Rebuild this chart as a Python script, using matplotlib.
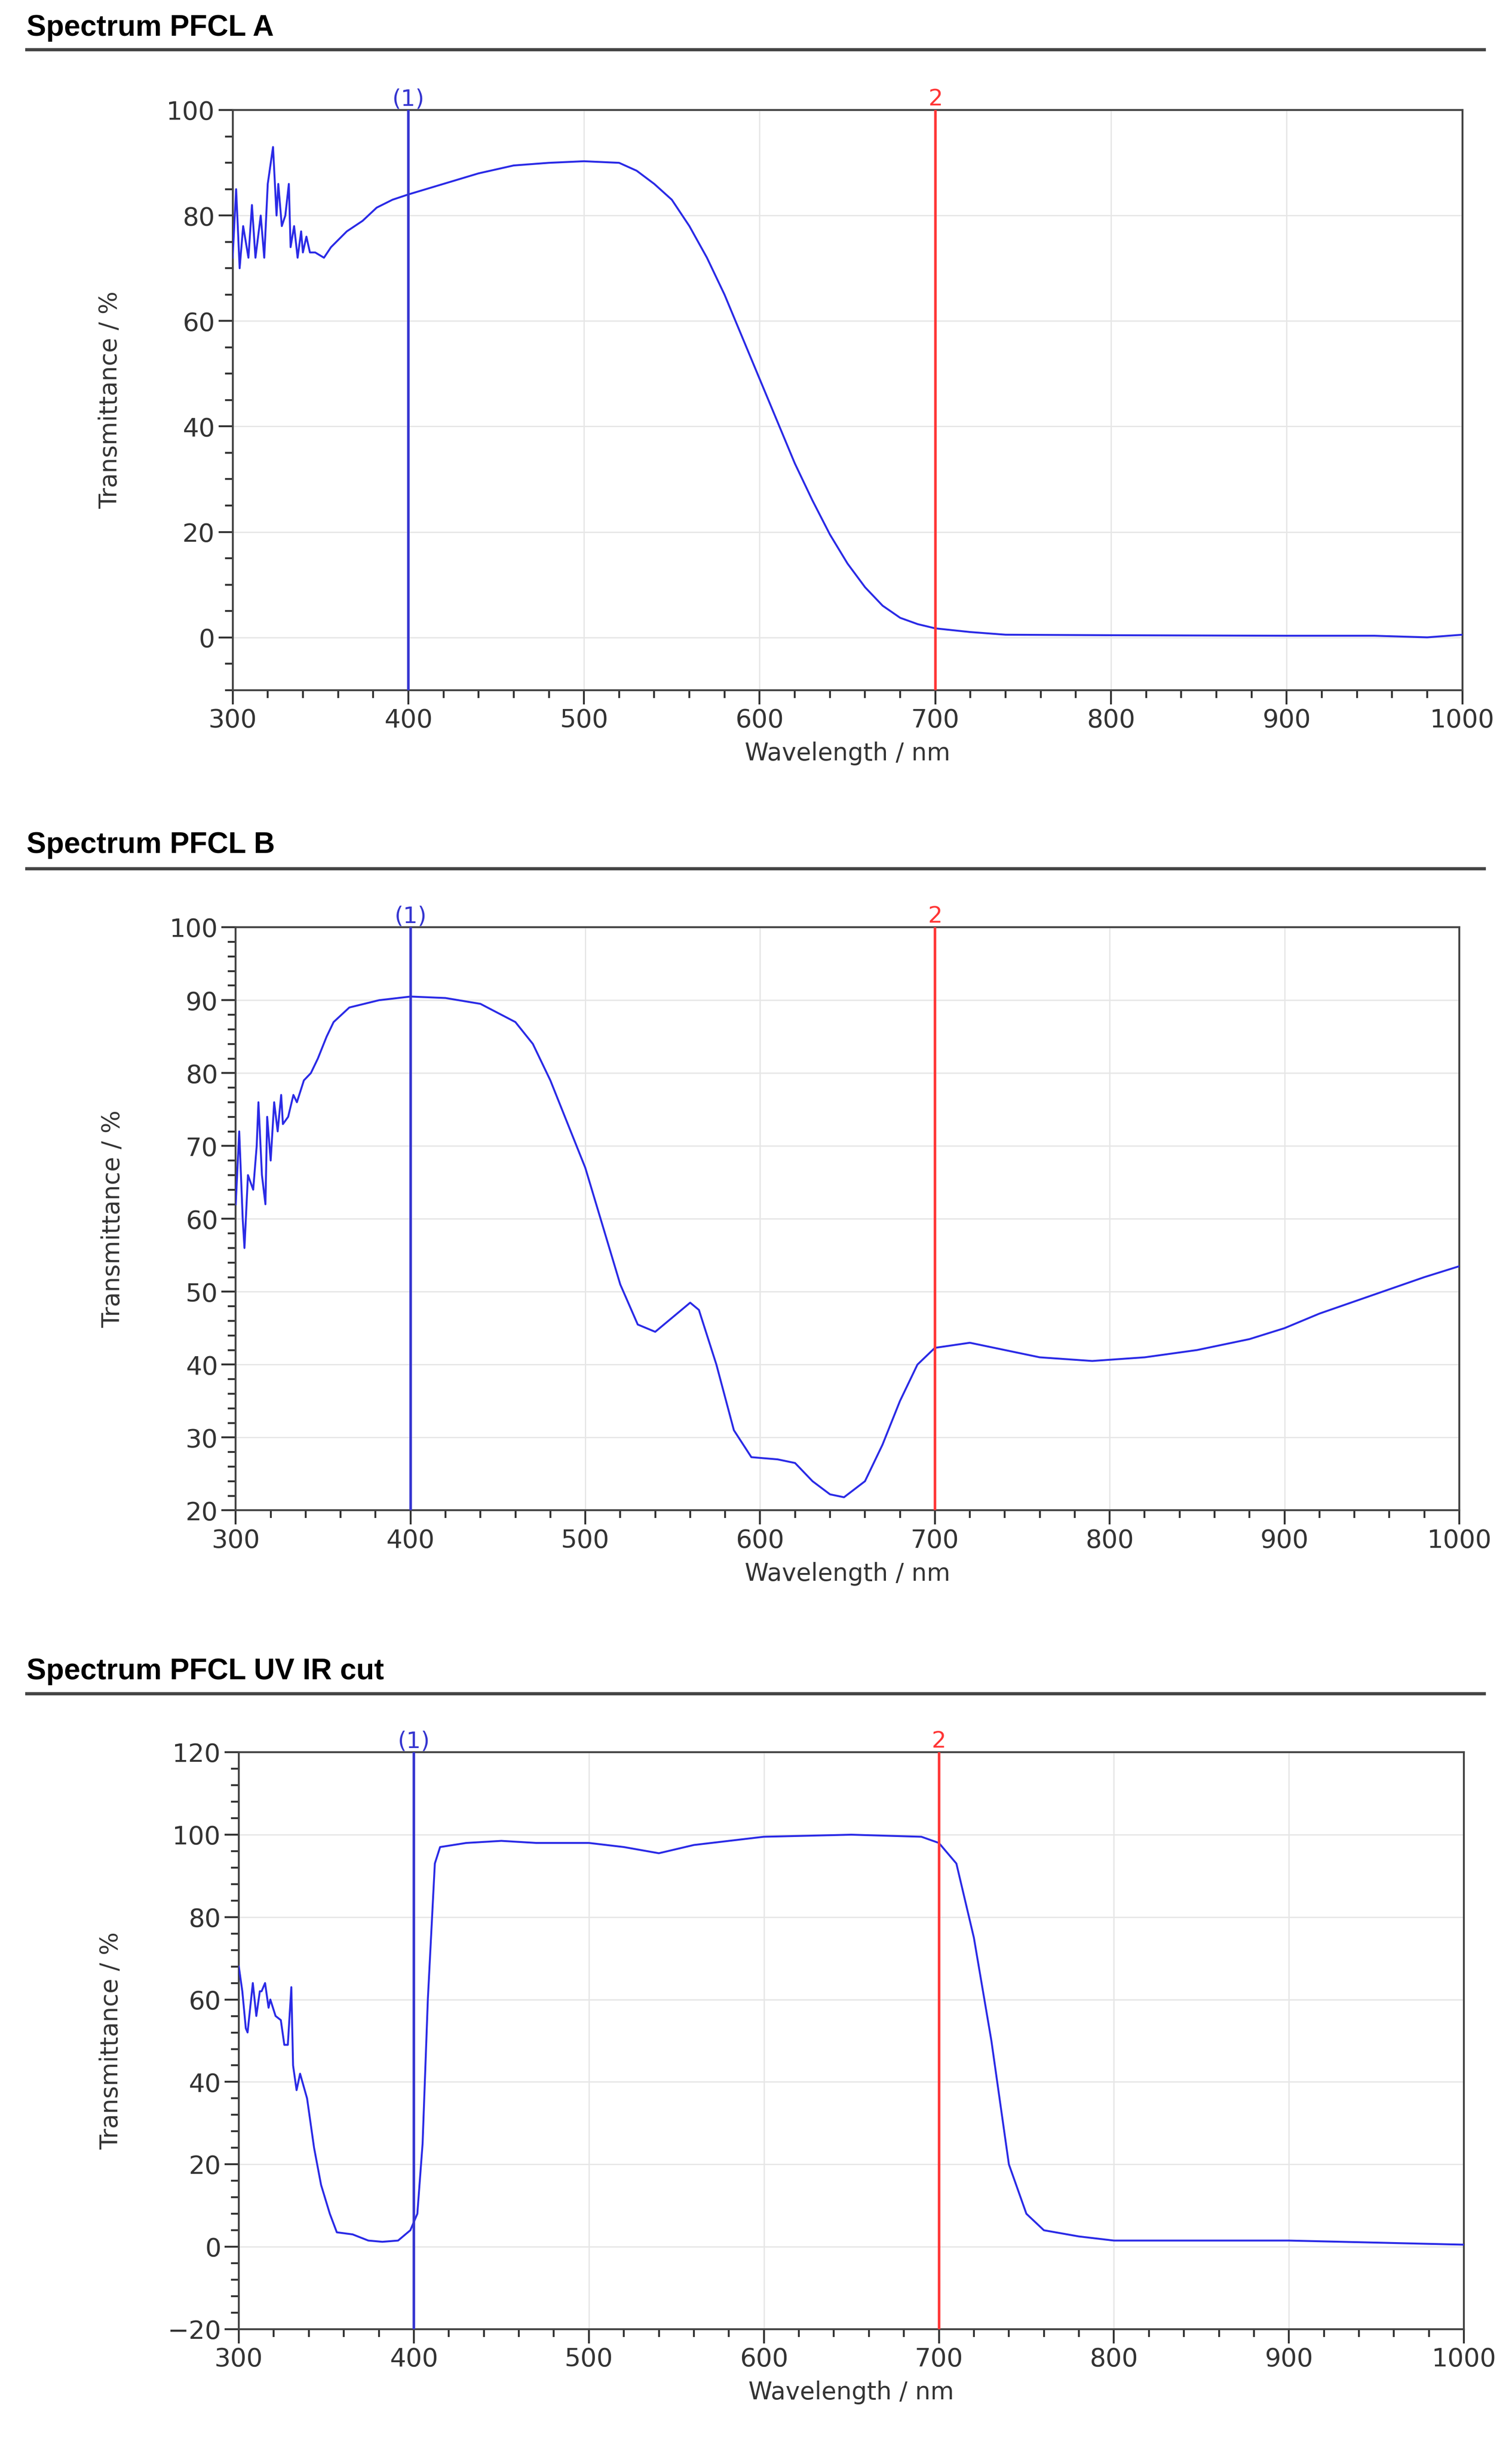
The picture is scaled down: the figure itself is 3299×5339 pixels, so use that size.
import matplotlib
matplotlib.use("Agg")
import matplotlib.pyplot as plt
from matplotlib.ticker import MultipleLocator

titles = ["Spectrum PFCL A", "Spectrum PFCL B", "Spectrum PFCL UV IR cut"]

wl_a = [300,302,304,306,309,311,313,316,318,320,323,325,326,328,330,332,333,335,337,339,340,342,344,347,352,356,365,374,382,391,400,420,440,460,480,500,520,530,540,550,560,570,580,590,600,610,620,630,640,650,660,670,680,690,700,720,740,800,900,950,980,1000]
t_a = [72,85,70,78,72,82,72,80,72,86,93,80,86,78,80,86,74,78,72,77,73,76,73,73,72,74,77,79,81.5,83,84,86,88,89.5,90,90.3,90,88.5,86,83,78,72,65,57,49,41,33,26,19.5,14,9.5,6,3.7,2.5,1.7,1,0.5,0.4,0.3,0.3,0,0.5]

wl_b = [300,302,304,305,307,310,312,313,315,317,318,320,322,324,326,327,330,333,335,339,343,347,352,356,365,382,400,420,440,460,470,480,490,500,510,520,530,540,550,560,565,575,585,595,610,620,630,640,648,660,670,680,690,700,720,740,760,790,820,850,880,900,920,950,980,1000]
t_b = [62,72,60,56,66,64,70,76,66,62,74,68,76,72,77,73,74,77,76,79,80,82,85,87,89,90,90.5,90.3,89.5,87,84,79,73,67,59,51,45.5,44.5,46.5,48.5,47.5,40,31,27.3,27,26.5,24,22.2,21.8,24,29,35,40,42.3,43,42,41,40.5,41,42,43.5,45,47,49.5,52,53.5]

wl_c = [300,302,304,305,308,310,312,313,315,317,318,321,324,326,328,330,331,333,335,339,343,347,352,356,365,374,382,391,398,402,405,408,412,415,430,450,470,500,520,540,560,580,600,650,690,700,710,720,730,740,750,760,780,800,850,900,950,1000]
t_c = [68,62,53,52,64,56,62,62,64,58,60,56,55,49,49,63,44,38,42,36,24,15,8,3.5,3,1.5,1.2,1.5,4,8,25,60,93,97,98,98.5,98,98,97,95.5,97.5,98.5,99.5,100,99.5,98,93,75,50,20,8,4,2.5,1.5,1.5,1.5,1,0.5]

ylims = [(-10, 100), (20, 100), (-20, 120)]
ymaj = [20, 10, 20]
ymin = [5, 2, 4]
marker_wl = [400, 700]
marker_lab = ["(1)", "2"]
marker_col = ["#3535d0", "#ff3535"]

W, H = 975, 1578
fig = plt.figure(figsize=(32.99, 53.39), dpi=100)
boxes = [(150, 943, 71, 445), (152, 941, 598, 974), (154, 944, 1130, 1502)]
title_y = [18, 545, 1078]
line_y = [32, 560, 1092]
data = [(wl_a, t_a), (wl_b, t_b), (wl_c, t_c)]

for i in range(3):
    l, r, t, b = boxes[i]
    ax = fig.add_axes([l / W, 1 - b / H, (r - l) / W, (b - t) / H])
    x, y = data[i]
    ax.plot(x, y, color="#2a2ae6", lw=3, zorder=3)
    ax.set_xlim(300, 1000)
    ax.set_ylim(*ylims[i])
    ax.xaxis.set_major_locator(MultipleLocator(100))
    ax.xaxis.set_minor_locator(MultipleLocator(20))
    ax.yaxis.set_major_locator(MultipleLocator(ymaj[i]))
    ax.yaxis.set_minor_locator(MultipleLocator(ymin[i]))
    ax.grid(True, which="major", color="#e6e6e6", lw=2)
    ax.tick_params(which="major", length=22, width=3, direction="out", labelsize=40, colors="#333333", pad=6)
    ax.tick_params(which="minor", length=12, width=3, direction="out", colors="#333333")
    for s in ax.spines.values():
        s.set_color("#444444"); s.set_linewidth(3)
    fig.canvas.draw()
    xl = ax.get_xticklabels()
    xl[0].set_ha("left")
    xl[-1].set_ha("right")
    ax.set_xlabel("Wavelength / nm", fontsize=38, color="#333333", labelpad=14)
    ax.set_ylabel("Transmittance / %", fontsize=38, color="#333333", labelpad=70)
    for wl, lab, c in zip(marker_wl, marker_lab, marker_col):
        ax.axvline(wl, color=c, lw=4, zorder=4)
        ax.text(wl, ylims[i][1], lab, color=c, fontsize=36, ha="center", va="bottom")
    fig.text(17 / W, 1 - title_y[i] / H, titles[i], fontsize=46, fontweight="bold",
             family="Liberation Sans", va="center", ha="left")
    fig.add_artist(plt.Line2D([17 / W, 957 / W], [1 - line_y[i] / H] * 2, color="#444444", lw=5))

fig.savefig("out.png", dpi=100, facecolor="white")
